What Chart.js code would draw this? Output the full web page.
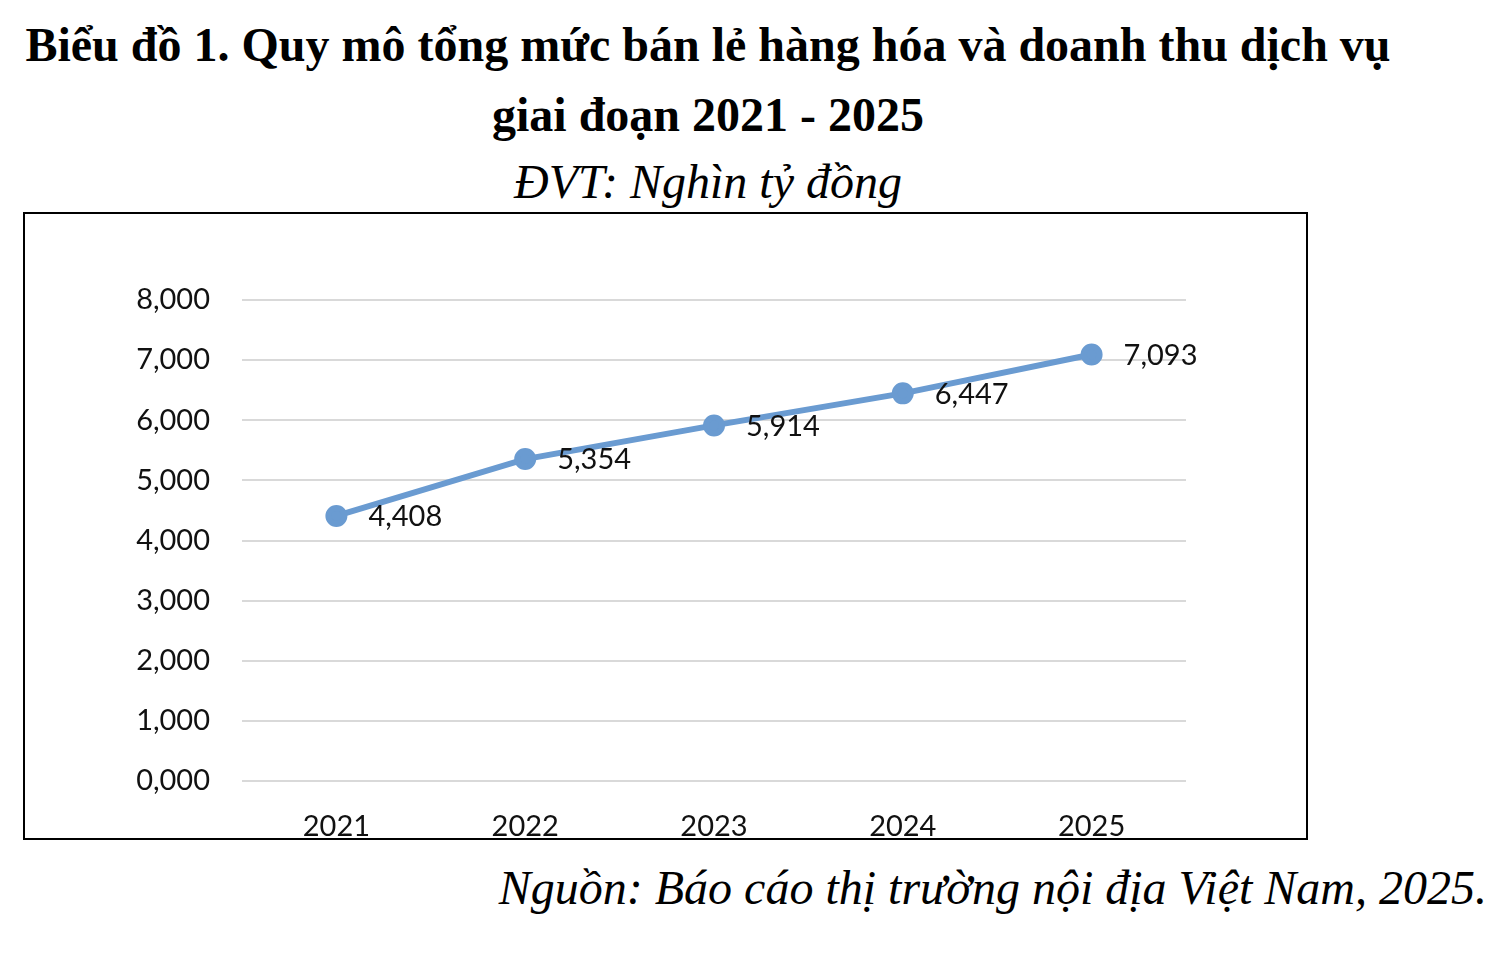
<!DOCTYPE html>
<html lang="vi">
<head>
<meta charset="UTF-8">
<title>Biểu đồ 1</title>
<script src="https://cdn.jsdelivr.net/npm/chart.js"></script>
<style>
  body { margin: 0; background: #fff; width: 1500px; height: 979px; position: relative; overflow: hidden; }
  .title { position: absolute; left: 0; width: 1416px; text-align: center; font-family: "Liberation Serif", serif; font-weight: bold; font-size: 48px; line-height: 56px; color: #000; }
  .unit { position: absolute; left: 0; width: 1416px; top: 154px; text-align: center; font-family: "Liberation Serif", serif; font-style: italic; font-size: 48px; line-height: 56px; }
  .src { position: absolute; right: 13px; top: 860px; font-family: "Liberation Serif", serif; font-style: italic; font-size: 48px; line-height: 56px; }
  #box { position: absolute; left: 23px; top: 212px; width: 1281px; height: 624px; border: 2px solid #000; }
</style>
</head>
<body>
<div class="title" style="top:17px">Biểu đồ 1. Quy mô tổng mức bán lẻ hàng hóa và doanh thu dịch vụ</div>
<div class="title" style="top:87px">giai đoạn 2021 - 2025</div>
<div class="unit">ĐVT: Nghìn tỷ đồng</div>
<div id="box"><canvas id="myChart" width="1281" height="624"></canvas></div>
<div class="src">Nguồn: Báo cáo thị trường nội địa Việt Nam, 2025.</div>
<script>
// data
const years = ['2021', '2022', '2023', '2024', '2025'];
const retail = [4408, 5354, 5914, 6447, 7093];
const yTickLabels = ['0,000', '1,000', '2,000', '3,000', '4,000', '5,000', '6,000', '7,000', '8,000'];

const chartFont = 'Lato, "Noto Sans", sans-serif';

// value labels to the right of each point
const pointLabels = {
  id: 'pointLabels',
  afterDatasetsDraw(chart) {
    const ctx = chart.ctx;
    const meta = chart.getDatasetMeta(0);
    ctx.save();
    ctx.font = '29px ' + chartFont;
    ctx.fillStyle = '#111';
    ctx.textAlign = 'left';
    ctx.textBaseline = 'middle';
    meta.data.forEach((pt, i) => {
      ctx.fillText(retail[i].toLocaleString('en-US'), pt.x + 32, pt.y + 1);
    });
    ctx.restore();
  }
};

const ctx = document.getElementById('myChart').getContext('2d');
const myChart = new Chart(ctx, {
  type: 'line',
  data: {
    labels: years,
    datasets: [{
      data: retail,
      borderColor: '#6a9bd1',
      backgroundColor: '#6a9bd1',
      borderWidth: 6,
      pointRadius: 8,
      pointHoverRadius: 8,
      tension: 0
    }]
  },
  options: {
    responsive: false,
    animation: false,
    layout: { padding: { top: 86, right: 120, bottom: 0, left: 0 } },
    plugins: { legend: { display: false }, tooltip: { enabled: false } },
    scales: {
      x: {
        offset: true,
        grid: { display: false },
        border: { display: false },
        ticks: { color: '#111', font: { family: chartFont, size: 29 }, padding: 20, maxRotation: 0 },
        afterFit(scale) { scale.height = 57; }
      },
      y: {
        min: 0,
        max: 8000,
        grid: { color: '#d9d9d9', lineWidth: 2, drawTicks: false },
        border: { display: false },
        ticks: {
          stepSize: 1000,
          color: '#111',
          padding: 32,
          font: { family: chartFont, size: 29 },
          callback: (v, i) => yTickLabels[i]
        },
        afterFit(scale) { scale.width = 217; }
      }
    }
  },
  plugins: [pointLabels]
});
</script>
</body>
</html>
